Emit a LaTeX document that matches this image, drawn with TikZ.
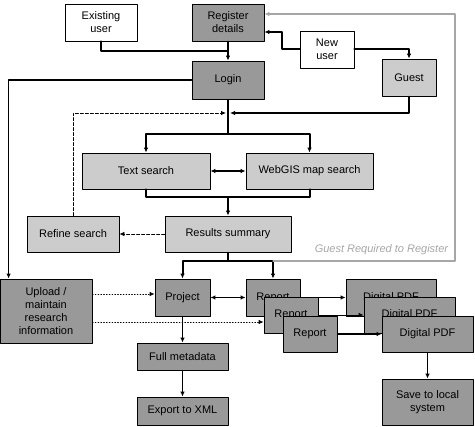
\documentclass[tikz,border=0pt]{standalone}
\usepackage{fontspec}
\setmainfont{Liberation Sans}
\usetikzlibrary{arrows.meta}
\definecolor{boxdark}{gray}{0.6}
\definecolor{boxlight}{gray}{0.8}
\definecolor{guidegray}{gray}{0.65}
\begin{document}
\begin{tikzpicture}[
	x=1pt,y=-1pt,
	>={Latex[length=5pt,width=4.5pt]},
	line width=1.2pt,
	line cap=round,
	line join=round,
	font=\fontsize{11}{13}\selectfont,
	box/.style={draw,line width=0.8pt,align=center,inner sep=1pt},
	dark/.style={box,fill=boxdark},
	light/.style={box,fill=boxlight},
	plain/.style={box,fill=white},
	heavy/.style={line width=2pt},
	thinlink/.style={line width=0.8pt}
	]
	\useasboundingbox (0,0) rectangle (475,427);
	% access
	\node[plain,minimum width=72pt,minimum height=37pt] (exist) at (101,22.5) {Existing\\user};
	\node[dark,minimum width=72pt,minimum height=37pt] (register) at (228,22.5) {Register\\details};
	\node[plain,minimum width=54pt,minimum height=37pt] (newuser) at (327,49.5) {New\\user};
	\node[dark,minimum width=72pt,minimum height=38pt] (login) at (228,80) {Login};
	\node[light,minimum width=54pt,minimum height=37pt] (guest) at (409,77.5) {Guest};
	% search
	\node[light,minimum width=128pt,minimum height=36pt] (textsearch) at (146,171) {Text search};
	\node[light,minimum width=127pt,minimum height=36pt] (webgis) at (309.5,171) {WebGIS map search};
	\node[light,minimum width=92pt,minimum height=36pt] (refine) at (73,234) {Refine search};
	\node[light,minimum width=126pt,minimum height=36pt] (results) at (228,234) {Results summary};
	% records
	\node[dark,minimum width=92pt,minimum height=64pt] (upload) at (46,311) {Upload /\\maintain\\research\\information};
	\node[dark,minimum width=55pt,minimum height=37pt] (project) at (182.5,297.5) {Project};
	\node[dark,minimum width=91pt,minimum height=27pt] (meta) at (182.5,356.5) {Full metadata};
	\node[dark,minimum width=91pt,minimum height=28pt] (xml) at (182.5,411) {Export to XML};
	\node[dark,minimum width=54pt,minimum height=37pt] (reporta) at (273,297.5) {Report};
	\node[dark,minimum width=90pt,minimum height=37pt] (pdfa) at (391,297.5) {Digital PDF};
	\node[dark,minimum width=54pt,minimum height=36pt] (reportb) at (291,315) {Report};
	\node[dark,minimum width=91pt,minimum height=36pt] (pdfb) at (409.5,315) {Digital PDF};
	\node[dark,minimum width=54pt,minimum height=36pt] (reportc) at (310,334) {Report};
	\node[dark,minimum width=91pt,minimum height=36pt] (pdfc) at (427.5,334) {Digital PDF};
	\node[dark,minimum width=91pt,minimum height=46pt] (save) at (427.5,402) {Save to local\\system};
	% junctions
	\coordinate (jreg) at (228,51);
	\coordinate (jsearch) at (228,113);
	\coordinate (jsplit) at (228,134);
	\coordinate (jmerge) at (228,197);
	\coordinate (jres) at (228,261);
	\coordinate (gcorner) at (455,261);
	% connectors
	\draw[heavy] (exist.south) |- (jreg);
	\draw[->] (register.south) -- (login.north);
	\draw[heavy,->] (newuser.west) -- ++(-18,0) |- ([yshift=-9.5pt]register.east);
	\draw[heavy,->] (newuser.east) -| (guest.north);
	\draw[->] (login.west) -| ([xshift=9pt]upload.north west);
	\draw (login.south) -- (jsplit);
	\draw[->] (guest.south) |- ([xshift=2pt]jsearch);
	\draw[thinlink,dash pattern=on 3pt off 2pt,->] (refine.north) |- ([xshift=-2pt]jsearch);
	\draw[heavy,->] (jsplit) -| (textsearch.north);
	\draw[heavy,->] (jsplit) -| (webgis.north);
	\draw[<->] (textsearch) -- (webgis);
	\draw[heavy] (textsearch.south) -- ++(0,8) -| (webgis.south);
	\draw[->] (jmerge) -- (results.north);
	\draw[thinlink,dash pattern=on 3pt off 2pt,->] (results.west) -- (refine.east);
	\draw (results.south) -- (jres);
	\draw[heavy,->] (jres) -| (project.north);
	\draw[heavy,->] (jres) -| (reporta.north);
	\draw[guidegray,->] (reporta.north |- jres) -- (gcorner) |- ([yshift=8.5pt]register.east);
	\node[anchor=east,text=guidegray,font=\fontsize{11}{13}\selectfont\itshape] (guestnote) at (452,250) {Guest Required to Register};
	\draw[thinlink,dotted,->] ([yshift=17pt]upload.east) -- ([yshift=17pt]upload.east -| project.west);
	\draw[thinlink,dotted,->] ([yshift=-11pt]upload.east) -- ([yshift=-11pt]upload.east -| reportb.west);
	\draw[<->] (project) -- (reporta);
	\draw[->] (project.south) -- (meta.north);
	\draw[->] (meta.south) -- (xml.north);
	\draw[->] (reporta.east) -- (pdfa.west);
	\draw[thinlink,->] (reportb.east) -- (pdfb.west);
	\draw[->] (reportc.east) -- (pdfc.west);
	\draw[->] (pdfc.south) -- (save.north);
\end{tikzpicture}
\end{document}
